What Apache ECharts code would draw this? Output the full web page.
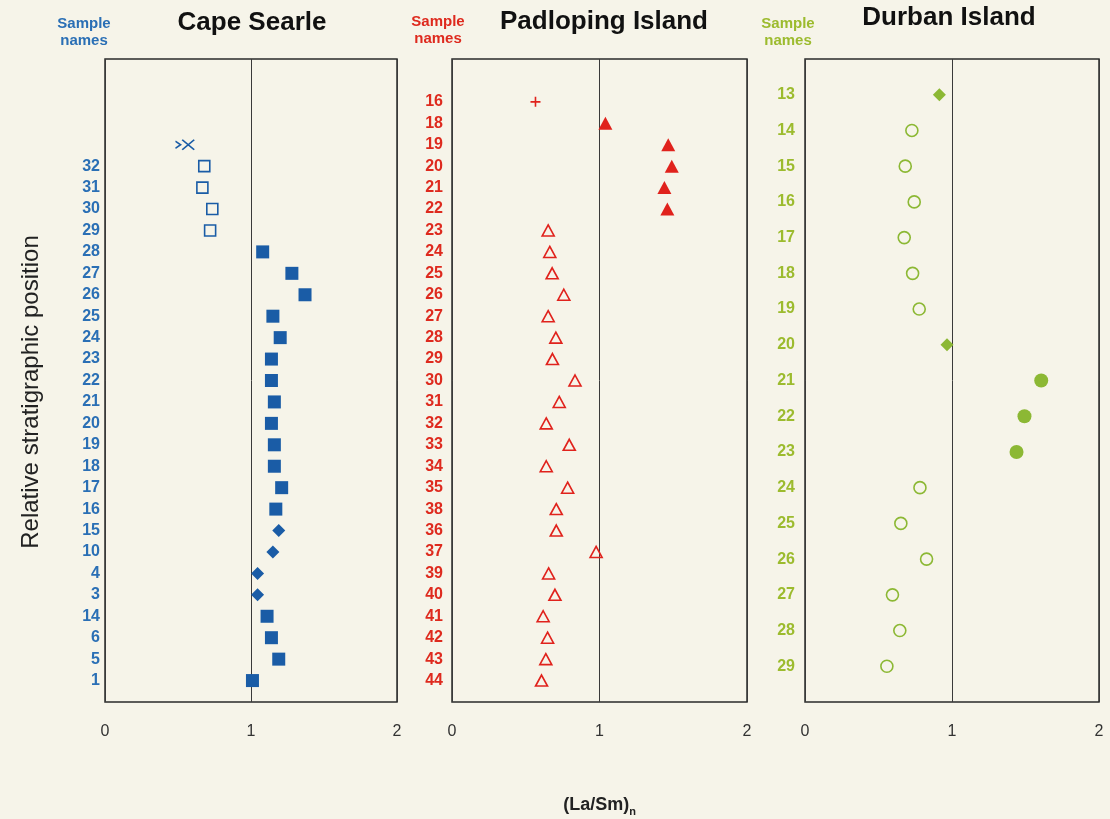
<!DOCTYPE html>
<html>
<head>
<meta charset="utf-8">
<title>(La/Sm)n stratigraphic profiles</title>
<script src="https://cdn.jsdelivr.net/npm/echarts@6/dist/echarts.min.js"></script>
<style>
  html, body { margin: 0; padding: 0; background: #f6f4e9; }
  #chart { width: 1110px; height: 819px; }
</style>
</head>
<body>
<div id="chart"></div>
<script>
// ---- Data: samples listed from the base of each section upward ----

// Cape Searle
const capeNames  = ['1', '5', '6', '14', '3', '4', '10', '15', '16', '17', '18', '19', '20',
                    '21', '22', '23', '24', '25', '26', '27', '28', '29', '30', '31', '32', ''];
const capeValues = [1.01, 1.19, 1.14, 1.11, 1.045, 1.045, 1.15, 1.19, 1.17, 1.21, 1.16, 1.16, 1.14,
                    1.16, 1.14, 1.14, 1.20, 1.15, 1.37, 1.28, 1.08, 0.72, 0.735, 0.667, 0.68, 0.57];
const capeMarks  = ['square', 'square', 'square', 'square', 'diamond', 'diamond', 'diamond', 'diamond',
                    'square', 'square', 'square', 'square', 'square', 'square', 'square', 'square',
                    'square', 'square', 'square', 'square', 'square',
                    'openSquare', 'openSquare', 'openSquare', 'openSquare', 'cross'];
// second mark sharing the uppermost Cape Searle level
const capeTopExtraValue = 0.50;

// Padloping Island
const padNames  = ['44', '43', '42', '41', '40', '39', '37', '36', '38', '35', '34', '33', '32', '31',
                   '30', '29', '28', '27', '26', '25', '24', '23', '22', '21', '20', '19', '18', '16'];
const padValues = [0.607, 0.636, 0.648, 0.618, 0.698, 0.655, 0.977, 0.707, 0.707, 0.784, 0.639, 0.795,
                   0.639, 0.727, 0.834, 0.681, 0.704, 0.652, 0.758, 0.679, 0.663, 0.652,
                   1.46, 1.44, 1.49, 1.466, 1.04, 0.566];
const padMarks  = ['openTriangle', 'openTriangle', 'openTriangle', 'openTriangle', 'openTriangle',
                   'openTriangle', 'openTriangle', 'openTriangle', 'openTriangle', 'openTriangle',
                   'openTriangle', 'openTriangle', 'openTriangle', 'openTriangle', 'openTriangle',
                   'openTriangle', 'openTriangle', 'openTriangle', 'openTriangle', 'openTriangle',
                   'openTriangle', 'openTriangle',
                   'triangle', 'triangle', 'triangle', 'triangle', 'triangle', 'plus'];

// Durban Island
const durNames  = ['29', '28', '27', '26', '25', '24', '23', '22', '21', '20', '19', '18', '17',
                   '16', '15', '14', '13'];
const durValues = [0.557, 0.645, 0.595, 0.827, 0.652, 0.782, 1.439, 1.493, 1.607, 0.966, 0.777,
                   0.732, 0.675, 0.743, 0.682, 0.727, 0.914];
const durMarks  = ['openCircle', 'openCircle', 'openCircle', 'openCircle', 'openCircle', 'openCircle',
                   'circle', 'circle', 'circle', 'diamond',
                   'openCircle', 'openCircle', 'openCircle', 'openCircle', 'openCircle', 'openCircle',
                   'diamond'];

const xTicks = [0, 1, 2];

// ---- Styling ----
const FONT = "'Liberation Sans', Arial, sans-serif";
const NARROW = "'Liberation Sans Narrow', 'Liberation Sans', Arial, sans-serif";

const markStyles = {
  square:       { symbol: 'rect', size: 13, filled: true },
  diamond:      { symbol: 'diamond', size: [13, 13], filled: true },
  openSquare:   { symbol: 'rect', size: 11, filled: false },
  cross:        { symbol: 'path://M0,0L10,10M10,0L0,10', size: [12, 10], filled: false },
  chevron:      { symbol: 'path://M0,0L6,5L0,10', size: [5, 7], filled: false },
  triangle:     { symbol: 'triangle', size: [14, 13], filled: true },
  openTriangle: { symbol: 'triangle', size: [12, 11], filled: false },
  plus:         { symbol: 'path://M5,0L5,10M0,5L10,5', size: 10, filled: false },
  circle:       { symbol: 'circle', size: 14, filled: true },
  openCircle:   { symbol: 'circle', size: 12, filled: false }
};

const panels = [
  { title: 'Cape Searle', names: capeNames, values: capeValues, marks: capeMarks,
    color: '#1a5ca6', labelColor: '#2a6fb5', ymax: 30,
    left: 105, width: 292, labelMargin: 5, titleX: 252, titleY: 23, tagX: 84, tagY: 32 },
  { title: 'Padloping Island', names: padNames, values: padValues, marks: padMarks,
    color: '#e0221c', labelColor: '#de2a1e', ymax: 30,
    left: 452, width: 295, labelMargin: 9, titleX: 604, titleY: 22, tagX: 438, tagY: 30 },
  { title: 'Durban Island', names: durNames, values: durValues, marks: durMarks,
    color: '#8cb834', labelColor: '#9cbb2e', ymax: 18,
    left: 805, width: 294, labelMargin: 10, titleX: 949, titleY: 18, tagX: 788, tagY: 32 }
];

const GRID_TOP = 59, GRID_HEIGHT = 643;

const grid = [], xAxis = [], yAxis = [], series = [], graphic = [];

function markSeries(panelIndex, markName, points, color) {
  const m = markStyles[markName];
  return {
    type: 'scatter',
    xAxisIndex: panelIndex,
    yAxisIndex: panelIndex,
    symbol: m.symbol,
    symbolSize: m.size,
    data: points,
    silent: true,
    z: 5,
    itemStyle: m.filled
      ? { color: color, borderWidth: 0, opacity: 1 }
      : { color: 'transparent', borderColor: color, borderWidth: 1.6, opacity: 1 }
  };
}

panels.forEach((p, i) => {
  grid.push({
    left: p.left, top: GRID_TOP, width: p.width, height: GRID_HEIGHT,
    containLabel: false, outerBoundsMode: 'none',
    show: true, borderColor: '#2a2a2a', borderWidth: 1.5, backgroundColor: 'transparent'
  });
  xAxis.push({
    type: 'value', gridIndex: i, min: xTicks[0], max: xTicks[xTicks.length - 1], interval: 1,
    axisLine: { show: false }, axisTick: { show: false },
    splitLine: { show: true, lineStyle: { color: '#3a3a3a', width: 1 } },
    axisLabel: { color: '#333', fontFamily: NARROW, fontSize: 16, margin: 22 },
    ...(i === 1 ? {
      name: '{a|(La/Sm)}{b|n}', nameLocation: 'middle', nameGap: 92,
      nameTextStyle: {
        rich: {
          a: { fontFamily: NARROW, fontWeight: 'bold', fontSize: 18, color: '#222' },
          b: { fontFamily: NARROW, fontWeight: 'bold', fontSize: 11, color: '#222', padding: [12, 0, 0, 0] }
        }
      }
    } : {})
  });
  const names = p.names;
  yAxis.push({
    type: 'value', gridIndex: i, min: 0, max: p.ymax, interval: 1,
    axisLine: { show: false }, axisTick: { show: false }, splitLine: { show: false },
    axisLabel: {
      margin: p.labelMargin, color: p.labelColor, fontFamily: FONT, fontWeight: 'bold', fontSize: 16,
      formatter: v => {
        const k = Math.round(v) - 1;
        return (k >= 0 && k < names.length) ? names[k] : '';
      }
    }
  });

  // group points by mark style; position 1 is the lowest sample
  const groups = {};
  p.values.forEach((v, k) => {
    const mk = p.marks[k];
    (groups[mk] = groups[mk] || []).push([v, k + 1]);
  });
  Object.keys(groups).forEach(mk => series.push(markSeries(i, mk, groups[mk], p.color)));

  graphic.push({
    type: 'text', x: p.titleX, y: p.titleY, silent: true,
    style: {
      text: p.title, font: `bold 26px ${FONT}`, fill: '#111',
      align: 'center', verticalAlign: 'middle'
    }
  });
  graphic.push({
    type: 'text', x: p.tagX, y: p.tagY, silent: true,
    style: {
      text: 'Sample\nnames', font: `bold 15px ${FONT}`, fill: p.labelColor,
      align: 'center', verticalAlign: 'middle', lineHeight: 17
    }
  });
});

// extra mark on the uppermost Cape Searle level
series.push(markSeries(0, 'chevron', [[capeTopExtraValue, capeNames.length]], panels[0].color));

graphic.push({
  type: 'text', x: 31, y: 392, rotation: Math.PI / 2, silent: true,
  style: {
    text: 'Relative stratigraphic position', font: `24px ${FONT}`, fill: '#222',
    align: 'center', verticalAlign: 'middle'
  }
});

const chart = echarts.init(document.getElementById('chart'), null, { renderer: 'canvas' });
chart.setOption({
  backgroundColor: '#f6f4e9',
  animation: false,
  grid, xAxis, yAxis, series, graphic
});
</script>
</body>
</html>
